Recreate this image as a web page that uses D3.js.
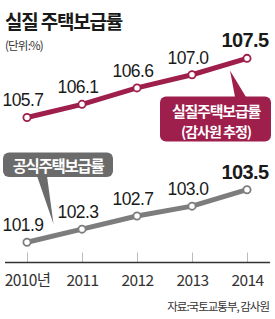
<!DOCTYPE html>
<html><head><meta charset="utf-8">
<script src="https://cdn.jsdelivr.net/npm/d3@7"></script>
<style>
html,body{margin:0;padding:0;background:#fff;}
svg{display:block;}
.num{font-family:"Liberation Sans Narrow","Liberation Sans",Arial,sans-serif;}
.kr{font-family:"Noto Sans CJK KR","Noto Sans",sans-serif;}
</style></head>
<body>
<svg id="c" width="275" height="319"></svg>
<script>
const years = [2010, 2011, 2012, 2013, 2014];
const tickLabels = ["2010년", "2011", "2012", "2013", "2014"];
const realRate = [105.7, 106.1, 106.6, 107.0, 107.5];
const officialRate = [101.9, 102.3, 102.7, 103.0, 103.5];
const realName = ["실질주택보급률", "(감사원 추정)"];
const officialName = "공식주택보급률";
const title = "실질 주택보급률";
const unit = "(단위:%)";
const source = "자료:국토교통부, 감사원";

const RED = "#9e1e4c", GRAY_LINE = "#7d7d7d", GRAY_BOX = "#6b6b6b";
const svg = d3.select("#c");

const x = d3.scalePoint().domain(years).range([27, 247]);
const y = d3.scaleLinear().domain([100, 108]).range([304.7, 41.9]);
const axisY = 262.5;

// title
svg.append("text").attr("class","kr").attr("x",5).attr("y",29)
  .attr("font-size",19).attr("font-weight",700).attr("letter-spacing",-1.2)
  .attr("fill","#1a1a1a").text(title);
svg.append("text").attr("class","kr").attr("x",5).attr("y",50)
  .attr("font-size",11.5).attr("letter-spacing",-0.8).attr("fill","#333").text(unit);

// axis
const axis = d3.axisBottom(x).tickSizeInner(-10).tickSizeOuter(0).tickPadding(12)
  .tickFormat((d,i)=>tickLabels[i]);
const ag = svg.append("g").attr("transform",`translate(0,${axisY})`).call(axis);
ag.select(".domain").remove();
ag.selectAll(".tick line").attr("stroke","#bbb").attr("stroke-width",1);
ag.selectAll(".tick text").attr("font-size",15.5)
  .attr("fill","#333").attr("font-family",'"Liberation Sans Narrow","Noto Sans CJK KR",sans-serif')
  .attr("letter-spacing",-0.6);
svg.append("line").attr("x1",5).attr("x2",270).attr("y1",axisY).attr("y2",axisY)
  .attr("stroke","#333").attr("stroke-width",1.5);

// source
svg.append("text").attr("class","kr").attr("x",269).attr("y",311).attr("text-anchor","end")
  .attr("font-size",11.5).attr("letter-spacing",-1).attr("fill","#333").text(source);

function series(vals, color) {
  const line = d3.line().x((d,i)=>x(years[i])).y(d=>y(d));
  svg.append("path").datum(vals).attr("d",line).attr("fill","none")
    .attr("stroke",color).attr("stroke-width",5).attr("stroke-linejoin","round");
  svg.selectAll(null).data(vals).enter().append("circle")
    .attr("cx",(d,i)=>x(years[i])).attr("cy",d=>y(d)).attr("r",3.6)
    .attr("fill","#fff").attr("stroke",color).attr("stroke-width",1.8);
  const last = vals.length-1;
  svg.selectAll(null).data(vals).enter().append("text").attr("class","num")
    .attr("x",(d,i)=>x(years[i]) - (i===last?2:4))
    .attr("y",d=>y(d) - 11)
    .attr("text-anchor","middle")
    .attr("font-size",(d,i)=>i===last?20:17.5)
    .attr("font-weight",(d,i)=>i===last?700:400)
    .attr("letter-spacing",-0.6)
    .attr("fill","#1a1a1a")
    .text(d=>d.toFixed(1));
}

// red callout tail + box
svg.append("path").attr("d","M230,70.5 L235,97 L246,97 Z").attr("fill",RED);
svg.append("rect").attr("x",160).attr("y",96.5).attr("width",111).attr("height",45)
  .attr("rx",6).attr("fill",RED);
svg.append("text").attr("class","kr").attr("x",216).attr("y",117).attr("text-anchor","middle")
  .attr("font-size",15).attr("font-weight",700).attr("letter-spacing",-1.2).attr("fill","#fff").text(realName[0]);
svg.append("text").attr("class","kr").attr("x",216).attr("y",136.5).attr("text-anchor","middle")
  .attr("font-size",14).attr("font-weight",700).attr("letter-spacing",-1).attr("fill","#fff").text(realName[1]);

// gray callout tail + box
svg.append("path").attr("d","M37,176 L47,176 L53.5,224 Z").attr("fill",GRAY_BOX);
svg.append("rect").attr("x",3).attr("y",152.5).attr("width",110).attr("height",24.5)
  .attr("rx",6).attr("fill",GRAY_BOX);
svg.append("text").attr("class","kr").attr("x",58).attr("y",171.5).attr("text-anchor","middle")
  .attr("font-size",15.5).attr("font-weight",700).attr("letter-spacing",-1.3).attr("fill","#fff").text(officialName);

series(realRate, RED);
series(officialRate, GRAY_LINE);
</script>
</body></html>
